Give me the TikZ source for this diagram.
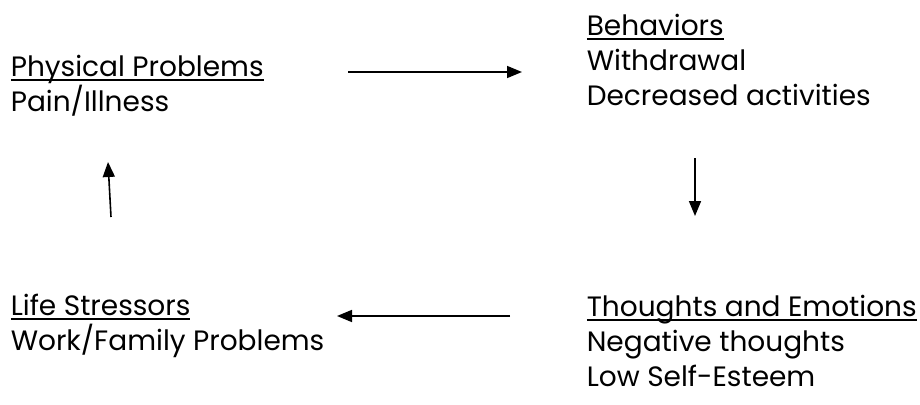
\documentclass[tikz,border=0pt]{standalone}
\usepackage{fontspec}
\setmainfont{Poppins}
\usepackage{tikz}
\usetikzlibrary{arrows.meta, positioning}
\newcommand{\undl}[1]{\setbox0\hbox{#1}\rlap{\rule[-5pt]{\wd0}{2pt}}\box0}
\tikzset{blk/.style={anchor=base west, inner sep=0pt, align=left, font=\fontsize{28}{35}\selectfont}}

\begin{document}
\begin{tikzpicture}[x=1pt, y=-1pt, >={Triangle[length=15pt, width=12pt]}, line width=1.6pt]
    \useasboundingbox (0,0) rectangle (920,404);
% base anchor sits on the last line
\node[blk] (phys) at (10,111) {\undl{Physical Problems}\\Pain/Illness};
\node[blk] (behav) at (586,105) {\undl{Behaviors}\\Withdrawal\\Decreased activities};
\node[blk] (life) at (10,350) {\undl{Life Stressors}\\Work/Family Problems};
\node[blk] (thought) at (586,386) {\undl{Thoughts and Emotions}\\Negative thoughts\\Low Self-Esteem};
\coordinate (a1) at (348,72); \coordinate (b1) at (522,72);
\coordinate (a2) at (695,158); \coordinate (b2) at (695,216);
\coordinate (a3) at (510,316); \coordinate (b3) at (337,316);
\coordinate (a4) at (111,217); \coordinate (b4) at (108,162);
\draw[->] (a1) -- (b1);
\draw[->] (a2) -- (b2);
\draw[->] (a3) -- (b3);
\draw[->] (a4) -- (b4);
  \end{tikzpicture}
\end{document}
